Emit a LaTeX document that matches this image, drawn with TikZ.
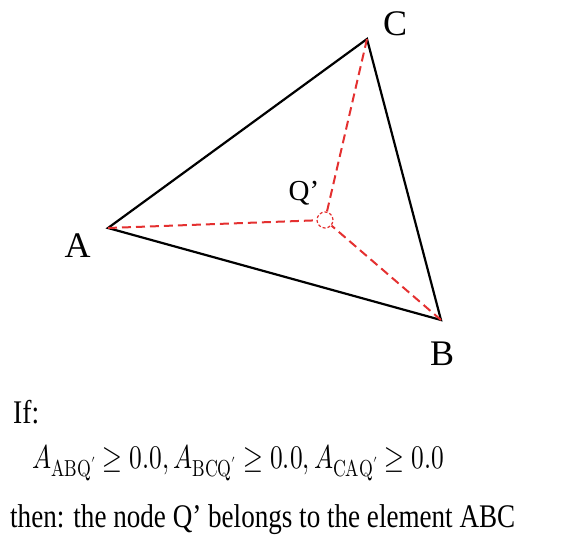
\documentclass[tikz,border=0pt]{standalone}
\usepackage{fontspec}
\usepackage{unicode-math}
\usepackage{graphicx}
\setmainfont{Liberation Serif}
\setmathfont{Latin Modern Math}
\definecolor{qred}{RGB}{228,48,48}
\begin{document}
\begin{tikzpicture}[x=1pt,y=-1pt,
  edge/.style={black,line width=2.2pt},
  sub/.style={qred,line width=2pt,dash pattern=on 9pt off 5pt},
  vlabel/.style={inner sep=0pt,font=\fontsize{36}{40}\selectfont},
  txt/.style={inner sep=0pt,anchor=base west}]
\useasboundingbox (0,0) rectangle (569,535);
\coordinate (A) at (108,228);
\coordinate (B) at (441,320);
\coordinate (C) at (367,39);
\node[circle,draw=qred,line width=1.2pt,densely dashed,minimum size=16pt,inner sep=0pt] (Q) at (325,220) {};
\draw[edge] (A) -- (B) -- (C) -- cycle;
\draw[sub] (A) -- (Q);
\draw[sub] (B) -- (Q);
\draw[sub] (C) -- (Q);
\node[vlabel] (lA) at (77.5,246) {A};
\node[vlabel] (lB) at (442,354) {B};
\node[vlabel] (lC) at (395,24) {C};
\node[inner sep=0pt,font=\fontsize{29}{32}\selectfont] (lQ) at (304,193) {Q’};
\node[txt] (t1) at (13,423) {\resizebox{26pt}{\height}{\fontsize{33}{40}\selectfont If:}};
\node[txt] (t2) at (32,468) {\resizebox{412pt}{\height}{\fontsize{33}{40}\selectfont $A_{\symup{ABQ}'}\geq 0.0, A_{\symup{BCQ}'}\geq 0.0, A_{\symup{CAQ}'}\geq 0.0$}};
\node[txt] (t3) at (10,527) {\resizebox{505pt}{\height}{\fontsize{33}{40}\selectfont then: the node Q’ belongs to the element ABC}};
\end{tikzpicture}
\end{document}
